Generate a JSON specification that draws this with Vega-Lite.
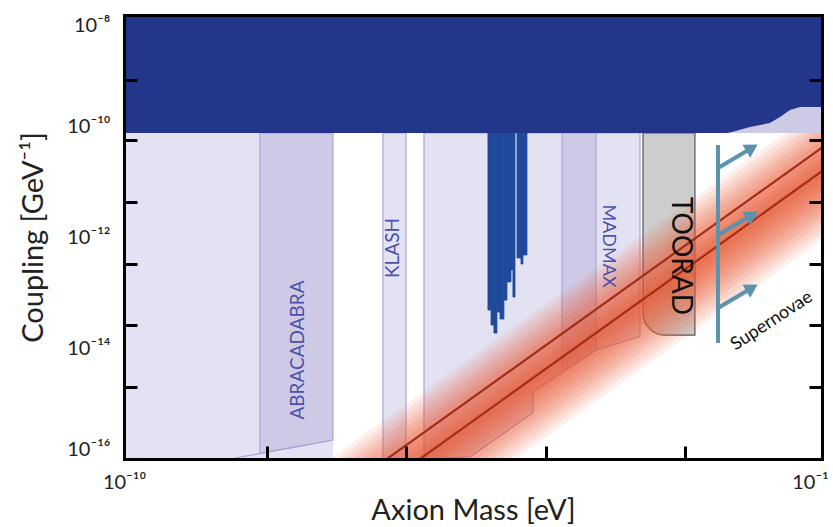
{
  "$schema": "https://vega.github.io/schema/vega-lite/v6.json",
  "width": 698,
  "height": 444,
  "autosize": {"type": "none"},
  "padding": {"left": 124, "top": 15, "right": 11, "bottom": 68},
  "background": "white",
  "config": {
    "view": {"stroke": null},
    "font": "Lato",
    "axis": {
      "domainColor": "#000000",
      "domainWidth": 3,
      "domainCap": "square",
      "tickColor": "#000000",
      "tickWidth": 3,
      "tickSize": -13,
      "grid": false,
      "labelFont": "Lato",
      "labelFontSize": 20,
      "labelColor": "#222222",
      "labelOverlap": false,
      "labelBound": false,
      "titleFont": "Lato",
      "titleFontSize": 29,
      "titleFontWeight": "normal",
      "titleColor": "#222222"
    }
  },
  "layer": [
    {
      "encoding": {
        "x": {
          "field": "m",
          "type": "quantitative",
          "scale": {"type": "log", "domain": [1e-10, 0.1], "nice": false},
          "axis": {
            "orient": "bottom",
            "zindex": 1,
            "values": [1e-10, 6.98e-9, 4.33e-7, 2.76e-5, 1.71e-3, 0.1],
            "labelExpr": "datum.value == 1e-10 ? '10⁻¹⁰' : datum.value == 0.1 ? '10⁻¹' : ''",
            "tickOpacity": {"condition": {"test": "datum.value == 1e-10 || datum.value == 0.1", "value": 0}, "value": 1},
            "labelFlush": false,
            "labelOffset": {"condition": {"test": "datum.value == 0.1", "value": -12}, "value": 0},
            "labelPadding": 26,
            "title": "Axion Mass [eV]",
            "titlePadding": 4
          }
        },
        "y": {
          "field": "g",
          "type": "quantitative",
          "scale": {"type": "log", "domain": [1e-16, 1e-8], "nice": false},
          "axis": {
            "orient": "left",
            "zindex": 1,
            "values": [1e-8, 6.74e-10, 1e-10, 5.6e-11, 4.27e-12, 1e-12, 3.26e-13, 2.6e-14, 1e-14, 1.98e-15, 1e-16],
            "labelExpr": "datum.value == 1e-8 ? '10⁻⁸' : datum.value == 1e-10 ? '10⁻¹⁰' : datum.value == 1e-12 ? '10⁻¹²' : datum.value == 1e-14 ? '10⁻¹⁴' : datum.value == 1e-16 ? '10⁻¹⁶' : ''",
            "tickOpacity": {"condition": {"test": "datum.value == 1e-8 || datum.value == 1e-10 || datum.value == 1e-12 || datum.value == 1e-14 || datum.value == 1e-16", "value": 0}, "value": 1},
            "labelFlush": true,
            "labelPadding": 27,
            "title": "Coupling [GeV⁻¹]",
            "titlePadding": 18
          }
        }
      },
      "layer": [
        {
          "data": {"values": [{"name": "low", "m": 1e-10, "m2": 4.95e-8, "g": 7.48e-11, "g2": 1e-16}]},
          "mark": {"type": "rect", "fill": "#e3e2f3", "clip": true},
          "encoding": {"x2": {"field": "m2"}, "y2": {"field": "g2"}}
        },
        {
          "data": {"values": [
            {"name": "ABRACADABRA", "m": 5.66e-9, "g": 7.48e-11, "g2": 1.26e-16},
            {"name": "ABRACADABRA", "m": 4.95e-8, "g": 7.48e-11, "g2": 2.2e-16}
          ]},
          "mark": {"type": "area", "fill": "#cecae6", "stroke": "#aaa6d8", "strokeWidth": 1.2, "clip": true},
          "encoding": {"y2": {"field": "g2"}}
        },
        {
          "data": {"values": [{"m": 2.33e-9, "g": 1e-16, "m2": 4.95e-8, "g2": 2.2e-16}]},
          "mark": {"type": "rule", "stroke": "#aaa6d8", "strokeWidth": 1.2, "clip": true},
          "encoding": {"x2": {"field": "m2"}, "y2": {"field": "g2"}}
        },
        {
          "data": {"values": [{"name": "KLASH", "m": 2.18e-7, "m2": 4.33e-7, "g": 7.48e-11, "g2": 1e-16}]},
          "mark": {"type": "rect", "fill": "#e3e2f3", "stroke": "#aaa6d8", "strokeWidth": 1.2, "clip": true},
          "encoding": {"x2": {"field": "m2"}, "y2": {"field": "g2"}}
        },
        {
          "data": {"values": [
            {"name": "mid", "m": 7.38e-7, "g": 7.48e-11, "g2": 1e-16},
            {"name": "mid", "m": 2.89e-6, "g": 7.48e-11, "g2": 1.09e-16},
            {"name": "mid", "m": 1.87e-5, "g": 7.48e-11, "g2": 6.74e-16},
            {"name": "mid", "m": 1.871e-5, "g": 7.48e-11, "g2": 1.61e-15},
            {"name": "mid", "m": 1.22e-4, "g": 7.48e-11, "g2": 9.2e-15},
            {"name": "mid", "m": 4.5e-4, "g": 7.48e-11, "g2": 1.6e-14}
          ]},
          "mark": {"type": "area", "fill": "#e3e2f3", "stroke": "#aaa6d8", "strokeWidth": 1.2, "clip": true},
          "encoding": {"y2": {"field": "g2"}}
        },
        {
          "data": {"values": [
            {"name": "band", "m": 4.44e-5, "g": 7.48e-11, "g2": 3.7e-15},
            {"name": "band", "m": 1.22e-4, "g": 7.48e-11, "g2": 9.2e-15}
          ]},
          "mark": {"type": "area", "fill": "#cecae6", "stroke": "#aaa6d8", "strokeWidth": 1.2, "clip": true},
          "encoding": {"y2": {"field": "g2"}}
        },
        {
          "data": {"values": [
            {"m": 4.93e-6, "m2": 5.40e-6, "g": 7.48e-11, "g2": 4.84e-14},
            {"m": 5.40e-6, "m2": 5.89e-6, "g": 7.48e-11, "g2": 2.6e-14},
            {"m": 5.89e-6, "m2": 6.44e-6, "g": 7.48e-11, "g2": 1.86e-14},
            {"m": 6.44e-6, "m2": 7.05e-6, "g": 7.48e-11, "g2": 4.45e-14},
            {"m": 7.05e-6, "m2": 7.92e-6, "g": 7.48e-11, "g2": 3.33e-14},
            {"m": 7.92e-6, "m2": 8.67e-6, "g": 7.48e-11, "g2": 7.3e-14},
            {"m": 8.67e-6, "m2": 9.77e-6, "g": 7.48e-11, "g2": 1.55e-13},
            {"m": 9.77e-6, "m2": 1.035e-5, "g": 7.48e-11, "g2": 2.54e-13},
            {"m": 1.035e-5, "m2": 1.10e-5, "g": 7.48e-11, "g2": 8.3e-14},
            {"m": 1.167e-5, "m2": 1.315e-5, "g": 7.48e-11, "g2": 4.19e-13},
            {"m": 1.315e-5, "m2": 1.393e-5, "g": 7.48e-11, "g2": 3.26e-13},
            {"m": 1.393e-5, "m2": 1.57e-5, "g": 7.48e-11, "g2": 4.74e-13}
          ]},
          "mark": {"type": "rect", "fill": "#1f4a9c", "stroke": "#1f4a9c", "strokeWidth": 0.8, "clip": true},
          "encoding": {"x2": {"field": "m2"}, "y2": {"field": "g2"}}
        },
        {
          "data": {"values": [{"name": "TOORAD", "m": 4.92e-4, "m2": 2.30e-3, "g": 7.48e-11, "g2": 1.71e-14}]},
          "mark": {"type": "rect", "fill": "#cdcdcd", "stroke": "#555555", "strokeWidth": 1.2, "cornerRadiusBottomLeft": 22, "clip": true},
          "encoding": {"x2": {"field": "m2"}, "y2": {"field": "g2"}}
        },
        {
          "data": {"values": [
            {"band": 1, "m": 1e-8, "g": 1.78e-18, "g2": 1.12e-18},
            {"band": 1, "m": 0.1, "g": 1.78e-11, "g2": 1.12e-11},
            {"band": 2, "m": 1e-8, "g": 2.24e-18, "g2": 8.91e-19},
            {"band": 2, "m": 0.1, "g": 2.24e-11, "g2": 8.91e-12},
            {"band": 3, "m": 1e-8, "g": 2.82e-18, "g2": 7.08e-19},
            {"band": 3, "m": 0.1, "g": 2.82e-11, "g2": 7.08e-12},
            {"band": 4, "m": 1e-8, "g": 3.55e-18, "g2": 5.62e-19},
            {"band": 4, "m": 0.1, "g": 3.55e-11, "g2": 5.62e-12},
            {"band": 5, "m": 1e-8, "g": 4.47e-18, "g2": 4.47e-19},
            {"band": 5, "m": 0.1, "g": 4.47e-11, "g2": 4.47e-12},
            {"band": 6, "m": 1e-8, "g": 5.62e-18, "g2": 3.55e-19},
            {"band": 6, "m": 0.1, "g": 5.62e-11, "g2": 3.55e-12},
            {"band": 7, "m": 1e-8, "g": 7.08e-18, "g2": 2.82e-19},
            {"band": 7, "m": 0.1, "g": 7.08e-11, "g2": 2.82e-12},
            {"band": 8, "m": 1e-8, "g": 8.91e-18, "g2": 2.24e-19},
            {"band": 8, "m": 0.1, "g": 8.91e-11, "g2": 2.24e-12},
            {"band": 9, "m": 1e-8, "g": 1.12e-17, "g2": 1.78e-19},
            {"band": 9, "m": 0.1, "g": 1.12e-10, "g2": 1.78e-12},
            {"band": 10, "m": 1e-8, "g": 1.41e-17, "g2": 1.41e-19},
            {"band": 10, "m": 0.1, "g": 1.41e-10, "g2": 1.41e-12},
            {"band": 11, "m": 1e-8, "g": 1.78e-17, "g2": 1.12e-19},
            {"band": 11, "m": 0.1, "g": 1.78e-10, "g2": 1.12e-12},
            {"band": 12, "m": 1e-8, "g": 2.24e-17, "g2": 8.91e-20},
            {"band": 12, "m": 0.1, "g": 2.24e-10, "g2": 8.91e-13}
          ]},
          "mark": {"type": "area", "fill": "#e9552f", "clip": true},
          "encoding": {
            "y2": {"field": "g2"},
            "detail": {"field": "band", "type": "nominal"},
            "opacity": {"field": "band", "type": "quantitative", "scale": {"domain": [1, 12], "range": [0.16, 0.09]}, "legend": null}
          }
        },
        {
          "data": {"values": [
            {"line": "upper", "m": 1e-8, "g": 4.07e-18},
            {"line": "upper", "m": 0.1, "g": 4.07e-11},
            {"line": "lower", "m": 1e-8, "g": 1.53e-18},
            {"line": "lower", "m": 0.1, "g": 1.53e-11}
          ]},
          "mark": {"type": "line", "stroke": "#a52b1a", "strokeWidth": 2.2, "clip": true},
          "encoding": {"detail": {"field": "line", "type": "nominal"}}
        },
        {
          "data": {"values": [{"name": "bump", "m": 5.96e-3, "m2": 0.1, "g": 7.48e-11, "g2": 3e-10}]},
          "mark": {"type": "rect", "fill": "#cdcae5", "clip": true},
          "encoding": {"x2": {"field": "m2"}, "y2": {"field": "g2"}}
        },
        {
          "data": {"values": [
            {"m": 1e-10, "g": 1e-8, "g2": 7.48e-11},
            {"m": 5.96e-3, "g": 1e-8, "g2": 7.48e-11},
            {"m": 6.9e-3, "g": 1e-8, "g2": 7.8e-11},
            {"m": 1.18e-2, "g": 1e-8, "g2": 9.6e-11},
            {"m": 2.13e-2, "g": 1e-8, "g2": 1.13e-10},
            {"m": 2.87e-2, "g": 1e-8, "g2": 1.45e-10},
            {"m": 3.86e-2, "g": 1e-8, "g2": 1.94e-10},
            {"m": 5.2e-2, "g": 1e-8, "g2": 2.2e-10},
            {"m": 0.1, "g": 1e-8, "g2": 2.2e-10}
          ]},
          "mark": {"type": "area", "fill": "#23368a", "clip": true},
          "encoding": {"y2": {"field": "g2"}}
        },
        {
          "data": {"values": [
            {"label": "ABRACADABRA", "m": 1.75e-8, "g": 9.2e-15},
            {"label": "KLASH", "m": 2.94e-7, "g": 6.34e-13}
          ]},
          "mark": {"type": "text", "angle": 270, "fontSize": 19, "font": "Lato", "fill": "#4b51a8", "align": "center", "baseline": "middle"},
          "encoding": {"text": {"field": "label"}}
        },
        {
          "data": {"values": [{"label": "MADMAX", "m": 1.74e-4, "g": 6.89e-13}]},
          "mark": {"type": "text", "angle": 90, "fontSize": 18, "font": "Lato", "fill": "#4b51a8", "align": "center", "baseline": "middle"},
          "encoding": {"text": {"field": "label"}}
        },
        {
          "data": {"values": [{"label": "TOORAD", "m": 1.48e-3, "g": 4.55e-13}]},
          "mark": {"type": "text", "angle": 90, "fontSize": 28, "font": "Lato", "fill": "#111111", "align": "center", "baseline": "middle"},
          "encoding": {"text": {"field": "label"}}
        },
        {
          "data": {"values": [
            {"part": "stem", "m": 4.56e-3, "g": 4.55e-11, "m2": 4.56e-3, "g2": 1.23e-14},
            {"part": "arrow1", "m": 4.56e-3, "g": 1.75e-11, "m2": 1.18e-2, "g2": 3.85e-11},
            {"part": "arrow2", "m": 4.56e-3, "g": 1.09e-12, "m2": 1.18e-2, "g2": 2.39e-12},
            {"part": "arrow3", "m": 4.56e-3, "g": 5.26e-14, "m2": 1.18e-2, "g2": 1.16e-13}
          ]},
          "mark": {"type": "rule", "stroke": "#5b93ad", "strokeWidth": 4, "clip": true},
          "encoding": {"x2": {"field": "m2"}, "y2": {"field": "g2"}}
        },
        {
          "data": {"values": [
            {"head": 1, "m": 1.25e-2, "g": 4.02e-11},
            {"head": 2, "m": 1.25e-2, "g": 2.49e-12},
            {"head": 3, "m": 1.25e-2, "g": 1.21e-13}
          ]},
          "mark": {"type": "point", "shape": "triangle-up", "angle": 59, "size": 230, "filled": true, "fill": "#5b93ad", "opacity": 1}
        },
        {
          "data": {"values": [{"label": "Supernovae", "m": 2.26e-2, "g": 3.06e-14}]},
          "mark": {"type": "text", "angle": 327, "fontSize": 18, "font": "Lato", "fill": "#111111", "align": "center", "baseline": "middle"},
          "encoding": {"text": {"field": "label"}}
        }
      ]
    },
    {
      "data": {"values": [{"m": 1e-5, "g": 1e-12}]},
      "mark": {"type": "point", "opacity": 0},
      "encoding": {
        "x": {
          "field": "m",
          "type": "quantitative",
          "scale": {"type": "log", "domain": [1e-10, 0.1], "nice": false},
          "axis": {"orient": "top", "zindex": 1, "ticks": false, "labels": false, "title": null}
        },
        "y": {
          "field": "g",
          "type": "quantitative",
          "scale": {"type": "log", "domain": [1e-16, 1e-8], "nice": false},
          "axis": {"orient": "right", "zindex": 1, "values": [6.74e-10, 5.6e-11, 4.27e-12, 3.26e-13, 2.6e-14, 1.98e-15], "labels": false, "title": null}
        }
      }
    }
  ],
  "resolve": {"axis": {"x": "independent", "y": "independent"}}
}
